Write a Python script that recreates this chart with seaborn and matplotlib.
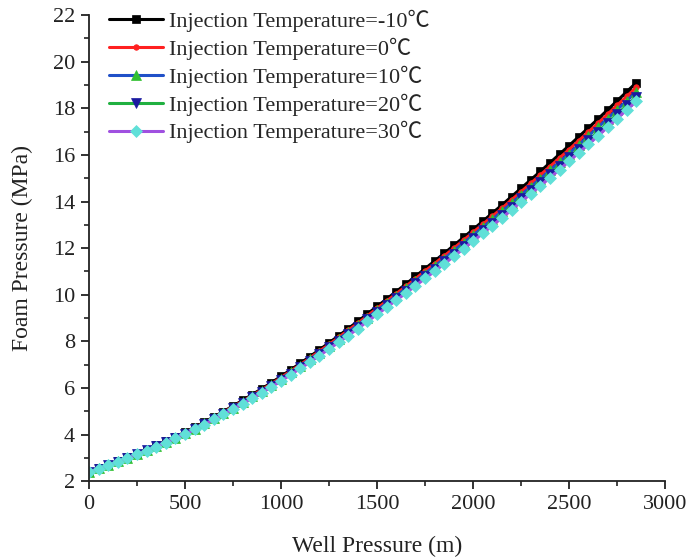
import numpy as np
import pandas as pd
import matplotlib
matplotlib.use("Agg")
import matplotlib.pyplot as plt
import seaborn as sns
from matplotlib.ticker import MultipleLocator

well_depth = list(range(0, 2851, 50))

temp_m10 = [2.40, 2.55, 2.70, 2.86, 3.02, 3.19, 3.36, 3.54, 3.72, 3.91,
            4.10, 4.31, 4.53, 4.76, 4.99, 5.23, 5.47, 5.72, 5.97, 6.23,
            6.50, 6.78, 7.06, 7.35, 7.64, 7.94, 8.24, 8.55, 8.86, 9.18,
            9.50, 9.82, 10.14, 10.46, 10.79, 11.12, 11.45, 11.78, 12.12, 12.46,
            12.80, 13.15, 13.50, 13.85, 14.21, 14.57, 14.93, 15.29, 15.66, 16.03,
            16.40, 16.78, 17.16, 17.54, 17.93, 18.32, 18.71, 19.10]
temp_0 = [2.40, 2.55, 2.70, 2.85, 3.01, 3.18, 3.35, 3.53, 3.70, 3.89,
          4.08, 4.29, 4.50, 4.73, 4.96, 5.20, 5.43, 5.68, 5.93, 6.18,
          6.45, 6.73, 7.00, 7.29, 7.58, 7.87, 8.17, 8.48, 8.78, 9.10,
          9.42, 9.73, 10.05, 10.36, 10.69, 11.02, 11.34, 11.67, 12.00, 12.34,
          12.68, 13.02, 13.37, 13.71, 14.07, 14.42, 14.78, 15.14, 15.50, 15.87,
          16.23, 16.61, 16.98, 17.36, 17.74, 18.13, 18.51, 18.90]
temp_10 = [2.40, 2.55, 2.69, 2.85, 3.01, 3.17, 3.34, 3.51, 3.69, 3.87,
           4.06, 4.26, 4.48, 4.70, 4.93, 5.16, 5.40, 5.64, 5.88, 6.14,
           6.40, 6.67, 6.95, 7.23, 7.51, 7.81, 8.10, 8.40, 8.70, 9.02,
           9.33, 9.64, 9.95, 10.27, 10.59, 10.91, 11.23, 11.55, 11.89, 12.22,
           12.55, 12.89, 13.23, 13.58, 13.93, 14.28, 14.63, 14.98, 15.34, 15.70,
           16.06, 16.43, 16.81, 17.18, 17.56, 17.94, 18.32, 18.70]
temp_20 = [2.40, 2.54, 2.69, 2.84, 3.00, 3.16, 3.32, 3.50, 3.67, 3.86,
           4.04, 4.24, 4.45, 4.68, 4.90, 5.13, 5.36, 5.60, 5.84, 6.09,
           6.35, 6.62, 6.89, 7.17, 7.45, 7.74, 8.03, 8.33, 8.63, 8.94,
           9.25, 9.55, 9.86, 10.17, 10.49, 10.81, 11.12, 11.44, 11.77, 12.10,
           12.43, 12.76, 13.10, 13.44, 13.78, 14.13, 14.48, 14.83, 15.18, 15.54,
           15.90, 16.26, 16.63, 16.99, 17.37, 17.75, 18.12, 18.50]
temp_30 = [2.40, 2.54, 2.68, 2.84, 2.99, 3.15, 3.31, 3.48, 3.66, 3.84,
           4.02, 4.22, 4.43, 4.65, 4.87, 5.09, 5.32, 5.56, 5.80, 6.05,
           6.30, 6.57, 6.84, 7.11, 7.39, 7.68, 7.96, 8.25, 8.55, 8.86,
           9.16, 9.46, 9.77, 10.07, 10.39, 10.70, 11.01, 11.33, 11.65, 11.98,
           12.30, 12.63, 12.97, 13.30, 13.64, 13.99, 14.33, 14.67, 15.02, 15.37,
           15.73, 16.09, 16.45, 16.81, 17.19, 17.56, 17.93, 18.30]

labels = ["Injection Temperature=-10\u2103", "Injection Temperature=0\u2103",
          "Injection Temperature=10\u2103", "Injection Temperature=20\u2103",
          "Injection Temperature=30\u2103"]
series = [temp_m10, temp_0, temp_10, temp_20, temp_30]

line_colors = ["#000000", "#ff2020", "#2050c8", "#20b040", "#a050e0"]
marker_colors = ["#000000", "#ff2020", "#30c030", "#1a1aa0", "#60e0d8"]
markers = ["s", "o", "^", "v", "D"]
msizes = [6, 4, 7, 7, 6.5]

sns.set_style("ticks")
plt.rcParams["font.family"] = ["Liberation Serif", "Noto Sans CJK SC"]

fig = plt.figure(figsize=(6.9, 5.57), dpi=100)
ax = fig.add_axes([0.129, 0.136, 0.835, 0.837])

for lab, vals, lc, mc, mk, ms in zip(labels, series, line_colors, marker_colors, markers, msizes):
    df = pd.DataFrame({"x": well_depth, "y": vals})
    sns.lineplot(data=df, x="x", y="y", ax=ax, color=lc, linewidth=2.2,
                 marker=mk, markersize=ms, markerfacecolor=mc,
                 markeredgecolor=mc, markeredgewidth=0.5, label=lab)

ax.set_xlim(0, 3000)
ax.set_ylim(2, 22)
ax.xaxis.set_major_locator(MultipleLocator(500))
ax.xaxis.set_minor_locator(MultipleLocator(250))
ax.yaxis.set_major_locator(MultipleLocator(2))
ax.yaxis.set_minor_locator(MultipleLocator(1))
ax.tick_params(which="major", direction="out", length=6, width=1.3,
               labelsize=16, colors="#222222", pad=4)
ax.tick_params(which="minor", direction="out", length=3.5, width=1.2, colors="#222222")
for s in ["top", "right"]:
    ax.spines[s].set_visible(False)
for s in ["left", "bottom"]:
    ax.spines[s].set_linewidth(1.3)
    ax.spines[s].set_color("#222222")

ax.set_xlabel("Well Pressure (m)", fontsize=17, labelpad=16, color="#222222")
ax.set_ylabel("Foam Pressure (MPa)", fontsize=17, labelpad=14, color="#222222")

leg = ax.legend(loc="upper left", bbox_to_anchor=(0.02, 1.03), frameon=False,
                fontsize=16, handlelength=2.4, handletextpad=0.3,
                labelspacing=0.25, borderaxespad=0.0)

fig.savefig("out.png", dpi=100)
